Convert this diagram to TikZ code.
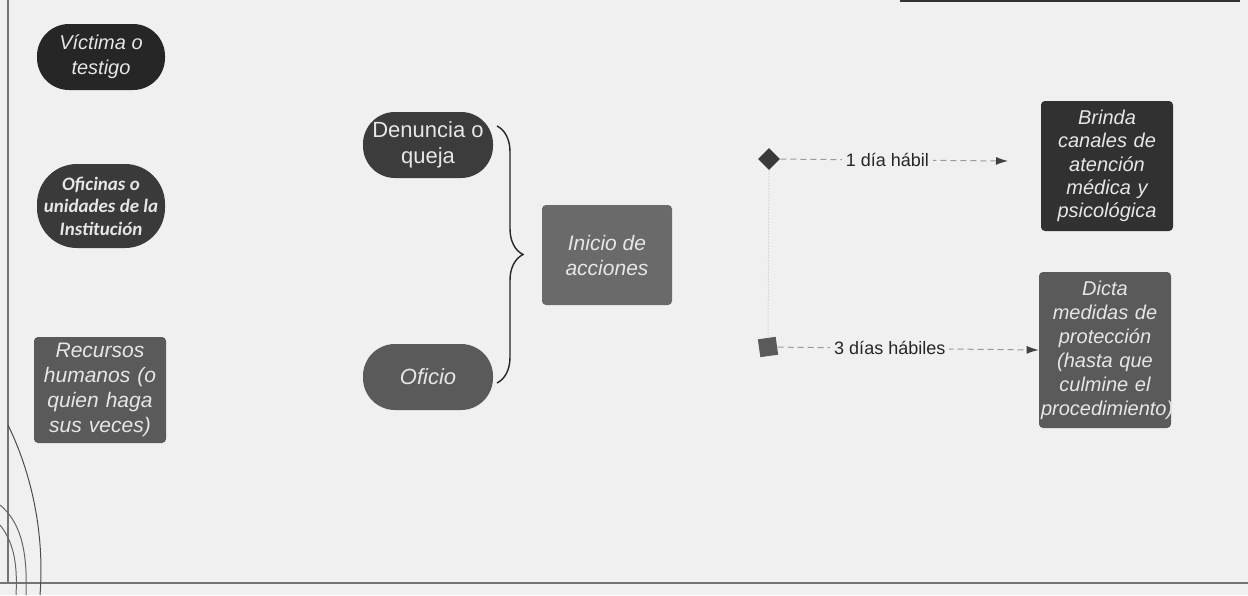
\documentclass[tikz,border=0pt]{standalone}
\usepackage{fontspec}
\setmainfont{Liberation Sans}
\newfontfamily\carlito{Carlito}
\usetikzlibrary{shapes.geometric,arrows.meta,decorations.pathreplacing,calc}
\definecolor{bg}{HTML}{F0F0F0}
\definecolor{boxA}{HTML}{262626}
\definecolor{boxB}{HTML}{3A3A3A}
\definecolor{boxC}{HTML}{5A5A5A}
\definecolor{boxD}{HTML}{6A6A6A}
\definecolor{txt}{HTML}{E6E6E6}
\definecolor{lineg}{HTML}{9A9A9A}
\tikzset{
  pill/.style={draw=none, rounded corners=16pt, minimum width=65pt, text=txt, align=center, inner sep=2pt},
  sq/.style={draw=none, rounded corners=2pt, text=txt, align=center, inner sep=1pt},
  nodetxt/.style={font=\fontsize{11}{13}\selectfont},
  itxt/.style={font=\fontsize{10.5}{12.5}\selectfont\itshape},
  conn/.style={draw=lineg, densely dashed, line width=0.5pt, -{Latex[length=6pt,width=4pt,color=black!75]}},
  lbl/.style={fill=bg, inner sep=2pt, font=\fontsize{9}{11}\selectfont, text=black!85},
  frameline/.style={draw=black!55, line width=0.6pt}
}
\begin{document}
\begin{tikzpicture}[x=0.5pt,y=-0.5pt]
\fill[bg] (0,0) rectangle (1248,595);
\useasboundingbox (0,0) rectangle (1248,595);
% frame lines of the scanned page
\draw[frameline] (8,0) -- (8,583);
\draw[frameline] (0,583) -- (1248,583);
\draw[draw=black!80, line width=1.2pt] (900,1) -- (1240,1);
% stamp traces
\draw[black!70, line width=0.5pt] (8,425) .. controls (30,470) and (45,530) .. (40,595);
\draw[black!60, line width=0.5pt] (0,505) .. controls (18,520) and (28,545) .. (26,595);
\draw[black!60, line width=0.5pt] (0,525) .. controls (12,540) and (18,560) .. (16,595);

% left column
\node[pill, fill=boxA, minimum width=64pt, minimum height=33pt, font=\fontsize{10}{12.5}\selectfont\itshape] (victima) at (101,57) {Víctima o\\testigo};
\node[pill, fill=boxB, minimum width=64pt, minimum height=42pt, rounded corners=20pt, font=\carlito\fontsize{9.5}{11.3}\selectfont\bfseries\itshape] (oficinas) at (101,206) {Oficinas o\\unidades de la\\Institución};
\node[sq, fill=boxC, minimum width=65pt, minimum height=53pt, itxt, text width=64pt] (rrhh) at (100,390) {Recursos\\humanos (o\\quien haga\\sus veces)};

% middle column
\node[pill, nodetxt, fill=boxA!90!white, minimum width=65pt, minimum height=33pt] (denuncia) at (428,145) {Denuncia o\\queja};
\node[pill, fill=boxC, minimum width=65pt, minimum height=33pt, font=\fontsize{11}{13}\selectfont\itshape] (oficio) at (428,377) {Oficio};
\coordinate (braceTop) at (497,126);
\coordinate (braceBot) at (497,383);
\draw[black!85, line width=0.7pt, decorate, decoration={brace, amplitude=13pt}] (braceTop) -- (braceBot);
\node[sq, fill=boxD, minimum width=65pt, minimum height=50pt, itxt] (inicio) at (607,255) {Inicio de\\acciones};

% timing markers
\node[diamond, fill=boxB, minimum width=11pt, minimum height=11pt, inner sep=0pt] (dia1) at (769,159) {};
\node[rectangle, fill=boxC, minimum width=9pt, minimum height=9pt, inner sep=0pt, rotate=8] (dia3) at (768,347) {};
\draw[lineg!60, densely dotted, line width=0.5pt] (dia1) -- (dia3);

% right column
\node[sq, fill=boxA!95!white, minimum width=65pt, minimum height=65pt, text width=64pt, font=\fontsize{10}{11.6}\selectfont\itshape] (brinda) at (1107,166) {Brinda\\canales de\\atención\\médica y\\psicológica};
\node[sq, fill=boxC, minimum width=65pt, minimum height=78pt, text width=64pt, font=\fontsize{10}{12}\selectfont\itshape] (dicta) at (1105,350) {Dicta\\medidas de\\protección\\(hasta que\\culmine el\\procedimiento)};

% connectors
\coordinate (arr1end) at (1008,161);
\draw[conn] (dia1) -- node[lbl, pos=0.47] {1 día hábil} (arr1end);
\draw[conn] (dia3) -- node[lbl, pos=0.43] {3 días hábiles} (dicta.west);
\end{tikzpicture}
\end{document}
